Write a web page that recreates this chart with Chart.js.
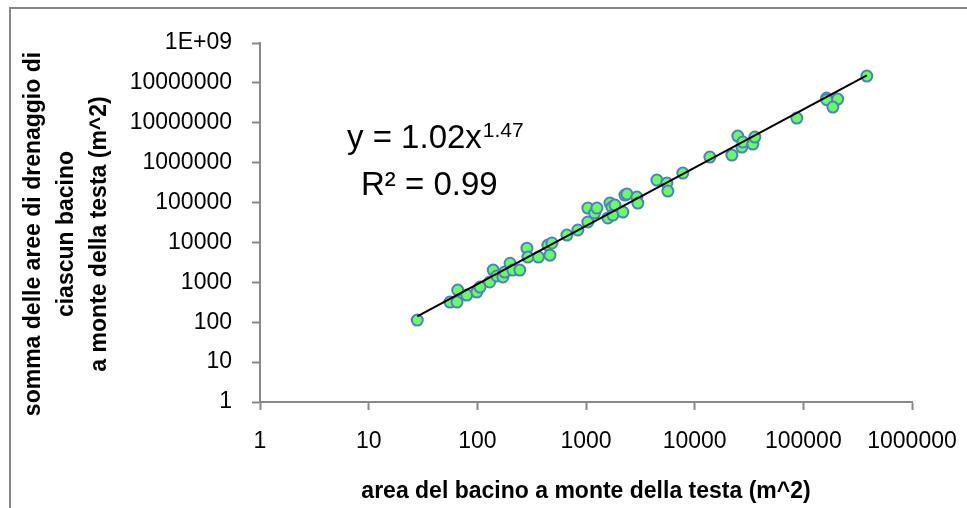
<!DOCTYPE html>
<html lang="it">
<head>
  <meta charset="UTF-8">
  <title>Area bacino vs somma aree di drenaggio</title>
  <script src="https://cdn.jsdelivr.net/npm/chart.js"></script>
  <style>
    body { margin: 0; background: #fff; overflow: hidden; }
    #wrap { position: relative; width: 967px; height: 508px; }
    #frame {
      position: absolute; left: 9px; top: 7px; width: 2000px; height: 2000px;
      border-left: 2px solid #878787; border-top: 2px solid #878787;
    }
    canvas { position: absolute; left: 0; top: 0; }
  </style>
</head>
<body>
<div id="wrap">
  <div id="frame"></div>
  <canvas id="grafico" width="967" height="508"></canvas>
</div>
<script>
// valori
const areaBacino = [28, 56, 65, 66, 80, 99, 106, 130, 140, 151, 172, 179, 200, 212, 246,
  286, 292, 365, 446, 486, 466, 667, 842, 1040, 1040, 1200, 1260, 1660, 1590, 1730, 1770,
  1845, 2280, 2380, 2185, 2940, 3000, 4490, 5550, 5670, 7780, 13800, 22000, 24950, 27200,
  27800, 34300, 35800, 87100, 164000, 164000, 207000, 187000, 384000];
const sommaAree = [113, 320, 320, 640, 480, 570, 760, 1020, 2030, 1440, 1360, 1810, 3000, 2030, 2030,
  7200, 4300, 4300, 8600, 9700, 4800, 15300, 20500, 32500, 72800, 54500, 72800, 97000, 41000, 77000, 48600,
  86500, 154000, 163000, 57800, 137000, 97000, 366000, 308000, 194000, 548000, 1380000, 1550000, 4640000, 2460000,
  3280000, 2920000, 4380000, 13100000, 41600000, 38000000, 39300000, 24700000, 148000000];

// linea di tendenza (estremi)
const trendX = [28, 384000];
const trendY = [140, 155000000];

const xTicks = [1, 10, 100, 1000, 10000, 100000, 1000000];
const xTickLabels = ['1', '10', '100', '1000', '10000', '100000', '1000000'];
const yTicks = [1, 10, 100, 1000, 10000, 100000, 1000000, 10000000, 100000000, 1000000000];
const yTickLabels = ['1', '10', '100', '1000', '10000', '100000', '1000000', '10000000', '10000000', '1E+09'];

const titoloX = 'area del bacino a monte della testa (m^2)';
const titoloY = ['somma delle aree di drenaggio di', 'ciascun bacino', 'a monte della testa (m^2)'];

const FONT = "'Liberation Sans', Arial, sans-serif";

const punti = areaBacino.map((x, i) => ({ x: x, y: sommaAree[i] }));
const trend = trendX.map((x, i) => ({ x: x, y: trendY[i] }));

// titolo asse y su tre righe + equazione
const testiPlugin = {
  id: 'testi',
  afterDraw(chart) {
    const ctx = chart.ctx;
    ctx.save();
    ctx.fillStyle = '#000';
    // titolo y ruotato
    ctx.font = 'bold 23px ' + FONT;
    ctx.textAlign = 'center';
    ctx.textBaseline = 'alphabetic';
    const baseX = [40, 73, 106];
    titoloY.forEach((t, i) => {
      ctx.save();
      ctx.translate(baseX[i], 234);
      ctx.rotate(-Math.PI / 2);
      ctx.fillText(t, 0, 0);
      ctx.restore();
    });
    // equazione
    ctx.textAlign = 'left';
    ctx.font = '33px ' + FONT;
    const eq = 'y = 1.02x';
    ctx.fillText(eq, 347, 148);
    const w = ctx.measureText(eq).width;
    ctx.font = '21px ' + FONT;
    ctx.fillText('1.47', 347 + w + 1, 137);
    ctx.font = '33px ' + FONT;
    ctx.fillText('R\u00B2 = 0.99', 361, 195);
    ctx.restore();
  }
};

new Chart(document.getElementById('grafico'), {
  type: 'scatter',
  data: {
    datasets: [
      {
        type: 'line',
        data: trend,
        borderColor: '#000',
        borderWidth: 2,
        pointRadius: 0,
        fill: false
      },
      {
        data: punti,
        pointRadius: 5.5,
        pointBackgroundColor: '#66ff66',
        pointBorderColor: '#4f81bd',
        pointBorderWidth: 2
      }
    ]
  },
  options: {
    responsive: false,
    animation: false,
    devicePixelRatio: 1,
    layout: { padding: { top: 43, right: 55, bottom: 0, left: 0 } },
    plugins: { legend: { display: false }, tooltip: { enabled: false } },
    scales: {
      x: {
        type: 'logarithmic',
        position: 'bottom',
        min: 1,
        max: 1000000,
        afterBuildTicks: s => { s.ticks = xTicks.map(v => ({ value: v })); },
        afterFit: s => { s.height = 106; s.paddingRight = 0; s.paddingLeft = 0; },
        ticks: {
          callback: v => xTickLabels[xTicks.indexOf(v)],
          font: { family: FONT, size: 23 },
          color: '#000',
          padding: 18,
          maxRotation: 0,
          autoSkip: false
        },
        grid: { drawOnChartArea: false, tickLength: 8, tickColor: '#888', tickWidth: 2 },
        border: { color: '#888', width: 2 },
        title: {
          display: true,
          text: titoloX,
          color: '#000',
          font: { family: FONT, size: 23, weight: 'bold' },
          padding: { top: 0, bottom: 3 }
        }
      },
      y: {
        type: 'logarithmic',
        min: 1,
        max: 1000000000,
        afterBuildTicks: s => { s.ticks = yTicks.map(v => ({ value: v })); },
        afterFit: s => { s.width = 260; s.paddingTop = 0; s.paddingBottom = 0; },
        ticks: {
          callback: v => yTickLabels[yTicks.indexOf(v)],
          font: { family: FONT, size: 23 },
          color: '#000',
          padding: 20,
          autoSkip: false
        },
        grid: { drawOnChartArea: false, tickLength: 8, tickColor: '#888', tickWidth: 2 },
        border: { color: '#888', width: 2 }
      }
    }
  },
  plugins: [testiPlugin]
});
</script>
</body>
</html>
